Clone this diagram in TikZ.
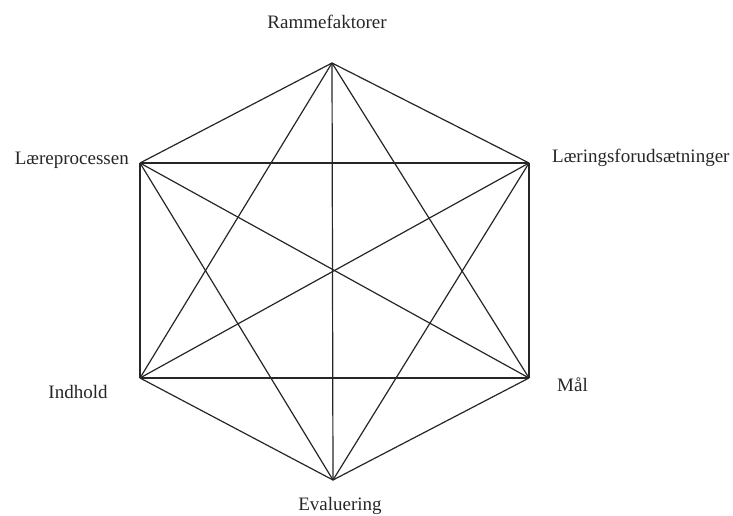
\documentclass[tikz,border=0pt]{standalone}
\usepackage{fontspec}
\setmainfont{Liberation Serif}
\usetikzlibrary{positioning}

\begin{document}
\begin{tikzpicture}[x=1pt, y=-1pt,
    kant/.style={line width=1.2pt, color=black!85},
    etiket/.style={font=\fontsize{19}{22}\selectfont, text=black!85, inner sep=0pt}]
    \useasboundingbox (0,0) rectangle (733,516);
    % hjørnerne i sekskanten
    \coordinate (ramme) at (332,63);
    \coordinate (laering) at (529,163);
    \coordinate (maal) at (529,378);
    \coordinate (eval) at (333,480);
    \coordinate (indhold) at (140,378);
    \coordinate (laere) at (140,163);

    % alle forbindelser mellem hjørnerne
    \foreach \a/\b in {ramme/laering, ramme/maal, ramme/eval, ramme/indhold, ramme/laere,
                       laering/maal, laering/eval, laering/indhold, laering/laere,
                       maal/eval, maal/indhold, maal/laere,
                       eval/indhold, eval/laere,
                       indhold/laere}
        \draw[kant] (\a) -- (\b);

    % navne
    \node[etiket] (tRamme) at (327,22) {Rammefaktorer};
    \node[etiket, anchor=east] (tLaere) at (129,160) {Læreprocessen};
    \node[etiket, anchor=west] (tLaering) at (552,158) {Læringsforudsætninger};
    \node[etiket, anchor=west] (tMaal) at (557,385) {Mål};
    \node[etiket] (tIndhold) at (78,392) {Indhold};
    \node[etiket] (tEval) at (340,506) {Evaluering};
\end{tikzpicture}
\end{document}
